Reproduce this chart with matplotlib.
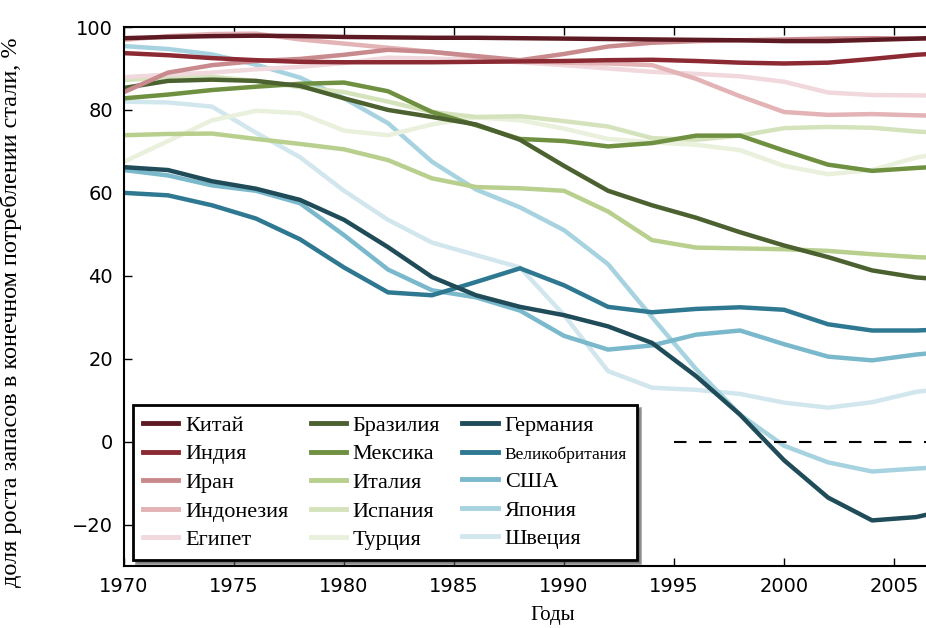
import matplotlib
matplotlib.use("Agg")
import matplotlib.pyplot as plt

# годы (шаг 2 года + конец окна)
years = [1970, 1972, 1974, 1976, 1978, 1980, 1982, 1984, 1986, 1988,
         1990, 1992, 1994, 1996, 1998, 2000, 2002, 2004, 2006, 2007]

china = [97.3, 97.6, 97.8, 97.9, 97.8, 97.6, 97.5, 97.4, 97.4, 97.3,
         97.2, 97.1, 97.0, 96.9, 96.8, 96.6, 96.6, 96.9, 97.2, 97.4]
india = [93.7, 93.2, 92.5, 92.0, 91.6, 91.5, 91.5, 91.5, 91.6, 91.7,
         91.8, 92.0, 92.1, 91.8, 91.4, 91.2, 91.4, 92.3, 93.3, 93.6]
iran = [84.3, 89.0, 90.8, 91.8, 92.3, 93.3, 94.5, 94.0, 93.0, 92.0,
        93.5, 95.3, 96.2, 96.6, 96.8, 97.0, 97.2, 97.3, 97.2, 97.2]
indonesia = [96.9, 97.8, 98.3, 98.4, 97.0, 96.0, 95.0, 94.0, 92.8, 91.8,
             91.4, 91.2, 90.8, 87.5, 83.3, 79.5, 78.8, 79.0, 78.7, 78.6]
egypt = [87.9, 88.5, 89.0, 89.8, 90.4, 91.3, 92.6, 92.4, 92.0, 91.5,
         90.8, 90.0, 89.2, 88.7, 88.1, 86.8, 84.2, 83.6, 83.5, 83.5]

brazil = [85.3, 87.0, 87.3, 87.0, 85.8, 82.8, 80.0, 78.3, 76.5, 72.8,
          66.5, 60.5, 57.0, 54.0, 50.5, 47.3, 44.5, 41.3, 39.6, 39.2]
mexico = [82.8, 83.7, 84.8, 85.6, 86.3, 86.6, 84.5, 79.5, 76.3, 73.0,
          72.5, 71.2, 72.0, 73.8, 73.8, 70.2, 66.8, 65.3, 66.0, 66.3]
italy = [73.9, 74.2, 74.3, 73.0, 71.8, 70.5, 67.9, 63.5, 61.4, 61.1,
         60.5, 55.5, 48.6, 46.8, 46.6, 46.4, 46.0, 45.2, 44.5, 44.3]
spain = [87.2, 87.9, 88.0, 87.0, 85.5, 84.3, 82.0, 79.5, 78.3, 78.5,
         77.3, 76.0, 73.2, 72.8, 73.8, 75.6, 75.9, 75.7, 74.8, 74.5]
turkey = [67.5, 72.5, 77.5, 79.8, 79.2, 75.0, 73.9, 76.5, 78.2, 77.5,
          75.5, 73.0, 72.2, 71.6, 70.3, 66.5, 64.5, 65.5, 68.5, 69.5]

germany = [66.2, 65.5, 62.8, 61.0, 58.3, 53.5, 46.9, 39.7, 35.3, 32.5,
           30.5, 27.8, 23.8, 15.8, 6.5, -4.5, -13.5, -19.0, -18.2, -17.0]
uk = [60.0, 59.4, 57.0, 53.8, 48.8, 42.0, 36.0, 35.3, 38.5, 41.8,
      37.7, 32.5, 31.2, 32.0, 32.4, 31.8, 28.3, 26.8, 26.8, 27.0]
usa = [65.5, 64.2, 61.8, 60.5, 57.5, 49.8, 41.5, 36.5, 34.8, 31.6,
       25.5, 22.2, 23.2, 25.8, 26.8, 23.5, 20.5, 19.6, 21.0, 21.5]
japan = [95.4, 94.7, 93.4, 90.9, 87.8, 82.8, 76.8, 67.5, 60.8, 56.5,
         51.0, 42.8, 30.0, 17.5, 6.5, -1.0, -5.0, -7.2, -6.5, -6.2]
sweden = [82.0, 81.8, 80.8, 74.5, 68.6, 60.5, 53.5, 48.0, 45.0, 42.0,
          30.5, 17.0, 13.0, 12.5, 11.5, 9.4, 8.2, 9.5, 12.0, 12.6]

series = [
    ("Китай", china, "#5e1a22"),
    ("Индия", india, "#8b2a33"),
    ("Иран", iran, "#c98a8e"),
    ("Индонезия", indonesia, "#e3b3b6"),
    ("Египет", egypt, "#f0d8dc"),
    ("Бразилия", brazil, "#4b6130"),
    ("Мексика", mexico, "#6e9040"),
    ("Италия", italy, "#b8cf8e"),
    ("Испания", spain, "#d5e3bd"),
    ("Турция", turkey, "#e9f0dc"),
    ("Германия", germany, "#1f4c58"),
    ("Великобритания", uk, "#2f7891"),
    ("США", usa, "#7ab8cc"),
    ("Япония", japan, "#a7d2e0"),
    ("Швеция", sweden, "#d2e6ee"),
]

serif = "Liberation Serif"

fig = plt.figure(figsize=(9.26, 6.28), dpi=100)
ax = fig.add_axes([0.1339, 0.0987, 0.8661, 0.8583])

# рисуем в обратном порядке, чтобы тёмные линии были сверху
for name, vals, col in reversed(series):
    ax.plot(years, vals, color=col, lw=3.2, label=name,
            solid_joinstyle="round")

ax.plot([1995, 2010], [0, 0], color="black", lw=1.5, ls=(0, (6, 6)))

ax.set_xlim(1970, 2006.45)
ax.set_ylim(-30, 100)
ax.set_xticks(range(1970, 2006, 5))
ax.set_yticks(range(-20, 101, 20))

for side in ["left", "top", "bottom"]:
    ax.spines[side].set_linewidth(1.5)
ax.spines["right"].set_visible(False)
ax.tick_params(direction="in", length=6, width=1, top=True, right=False,
               labelsize=14, pad=8)
ax.set_yticklabels(["\u221220", "0", "20", "40", "60", "80", "100"])

ax.set_xlabel("Годы", family=serif, fontsize=15)
ax.xaxis.set_label_coords(0.534, -0.074)
ax.set_ylabel("доля роста запасов в конечном потреблении стали, %",
              family=serif, fontsize=17.5)
ax.yaxis.set_label_coords(-0.127, 0.47)

handles, labels = ax.get_legend_handles_labels()
handles = handles[::-1]
labels = labels[::-1]
leg = ax.legend(handles, labels, ncol=3, loc="lower left",
                bbox_to_anchor=(0.011, 0.011), borderaxespad=0,
                fancybox=False, shadow=True,
                prop={"family": serif, "size": 16}, handlelength=1.6,
                handletextpad=0.3, columnspacing=1.0, labelspacing=0.36,
                borderpad=0.45, framealpha=1)
leg.get_frame().set_edgecolor("black")
leg.get_frame().set_linewidth(2)
for t in leg.get_texts():
    if t.get_text() == "Великобритания":
        t.set_fontsize(12.5)
for h in leg.get_lines():
    h.set_linewidth(3.5)

fig.savefig("out.png", dpi=100)
